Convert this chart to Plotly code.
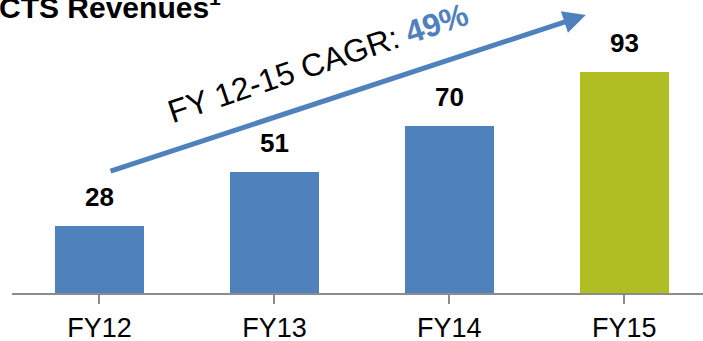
import plotly.graph_objects as go

categories = ["FY12", "FY13", "FY14", "FY15"]
revenues = [28, 51, 70, 93]
bar_colors = ["#4F81BD", "#4F81BD", "#4F81BD", "#B0BE24"]
title_text = "<b>CTS Revenues<sup>1</sup></b>"
cagr_label = "FY 12-15 CAGR: "
cagr_value = "49%"

FONT = "Liberation Sans, Arial, sans-serif"

fig = go.Figure()
fig.add_trace(go.Bar(
    x=list(range(len(categories))), y=revenues,
    marker=dict(color=bar_colors, line=dict(width=0)),
    width=0.51, hoverinfo="skip",
))

for i, v in enumerate(revenues):
    fig.add_annotation(x=i, y=v, text=f"<b>{v}</b>", showarrow=False,
                       yanchor="bottom", yshift=12,
                       font=dict(family=FONT, size=26, color="#000000"))

# growth arrow
fig.add_annotation(x=2.78, y=116.8, ax=0.055, ay=51.0, xref="x", yref="y",
                   axref="x", ayref="y", text="", showarrow=True,
                   arrowhead=2, arrowsize=0.9, arrowwidth=5,
                   arrowcolor="#4F81BD", standoff=0, startstandoff=0)

fig.add_annotation(x=1.25, y=96.5, xref="x", yref="y", showarrow=False,
                   text=f"{cagr_label}<b><span style='color:#4F81BD'>{cagr_value}</span></b>",
                   textangle=-18.5,
                   font=dict(family=FONT, size=32, color="#000000"))

fig.add_annotation(x=-15/691, y=1.0, xref="paper", yref="paper",
                   xanchor="left", yanchor="middle", yshift=-5, showarrow=False,
                   text=title_text,
                   font=dict(family=FONT, size=30, color="#000000"))

fig.update_layout(
    width=703, height=341,
    margin=dict(l=12, r=0, t=0, b=48, autoexpand=False),
    paper_bgcolor="white", plot_bgcolor="white",
    showlegend=False, bargap=0,
    xaxis=dict(range=[-0.5, 3.45], tickmode="array",
               tickvals=list(range(len(categories))), ticktext=categories,
               showline=True, linecolor="#8C8C8C", linewidth=2,
               ticks="outside", ticklen=9, tickwidth=2, tickcolor="#8C8C8C",
               tickson="boundaries", showgrid=False, zeroline=False,
               ticklabelstandoff=1, automargin=False,
               tickfont=dict(family=FONT, size=27, color="#000000"),
               fixedrange=True),
    yaxis=dict(range=[0, 123.1], visible=False, fixedrange=True, automargin=False),
)

fig.write_html("out.html")
